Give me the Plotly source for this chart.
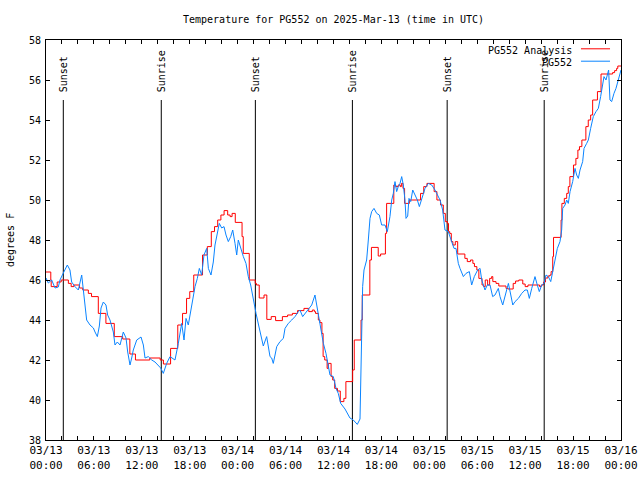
import pandas as pd
import plotly.graph_objects as go

START = "2025-03-13 00:00"
END = "2025-03-16 00:00"

# PG552 Analysis (red, stepped) : hours since start, temperature (F)
analysis_hours = [0.0, 0.6, 0.65, 1.4, 1.9, 2.8, 3.15, 3.5, 4.2, 4.6, 5.3, 5.7, 6.55, 7.5, 8.55, 9.6,
                  10.5, 11.2, 13.0, 14.3, 14.7, 15.6, 16.5, 17.1, 17.6, 18.0, 18.5, 19.6, 20.2, 20.7,
                  21.1, 21.5, 21.9, 22.3, 22.75, 23.05, 23.3, 23.7, 24.55, 24.7, 25.45, 26.2, 26.35,
                  26.7, 27.3, 27.65, 28.2, 28.75, 29.6, 30.25, 30.85, 31.5, 32.3, 32.9, 33.35, 33.6,
                  33.75, 34.1, 34.3, 34.55, 34.7, 34.9, 35.2, 35.35, 35.7, 35.9, 36.15, 36.5, 36.85,
                  37.3, 37.55, 38.4, 38.6, 39.45, 39.6, 40.55, 40.75, 41.6, 41.9, 42.5, 42.65, 43.55,
                  43.8, 44.1, 44.35, 44.5, 44.7, 44.9, 45.5, 46.9, 47.3, 47.7, 48.6, 48.95, 49.4,
                  49.75, 50.0, 50.25, 50.4, 50.55, 50.75, 50.95, 51.25, 51.55, 52.45, 52.75, 53.15,
                  53.45, 53.65, 53.95, 54.2, 54.6, 54.8, 55.0, 55.3, 55.55, 55.8, 55.95, 56.35, 56.7,
                  57.6, 57.85, 58.5, 58.8, 59.2, 59.7, 60.0, 60.35, 61.8, 62.0, 62.3, 62.55, 62.85,
                  63.1, 63.25, 63.45, 63.55, 64.5, 64.6, 64.9, 65.2, 65.4, 65.6, 66.05, 66.35, 66.6,
                  66.8, 67.1, 67.6, 67.9, 68.2, 68.45, 69.05, 69.5, 70.95, 71.2, 71.45, 71.6, 72.0]
analysis_temps = [46.4, 46.0, 45.67, 45.9, 46.0, 45.83, 45.67, 45.75, 45.6, 45.5, 45.33, 45.17, 44.33,
                  43.83, 43.17, 43.05, 42.3, 42.0, 42.1, 42.0, 41.8, 42.58, 43.75, 44.33, 45.08,
                  45.42, 46.25, 47.25, 47.67, 48.42, 48.67, 49.0, 49.25, 49.47, 49.25, 49.17, 49.33,
                  48.88, 48.17, 47.33, 46.0, 45.83, 45.75, 45.1, 45.25, 44.03, 44.17, 43.97, 44.17,
                  44.25, 44.33, 44.47, 44.58, 44.42, 44.5, 44.42, 44.33, 44.0, 43.87, 43.33, 42.17,
                  42.0, 41.58, 41.83, 41.17, 41.0, 40.58, 40.45, 39.92, 40.08, 40.92, 41.5, 43.0,
                  44.0, 45.25, 47.0, 47.63, 47.2, 47.3, 48.33, 49.83, 50.75, 50.67, 50.75, 50.67,
                  50.83, 50.58, 49.83, 50.0, 50.33, 50.67, 50.83, 50.42, 50.0, 49.75, 49.33, 48.92,
                  48.83, 48.42, 48.33, 47.92, 47.75, 47.92, 47.3, 47.08, 46.92, 47.0, 46.83, 46.67,
                  46.5, 46.08, 45.75, 45.67, 46.0, 45.75, 46.08, 46.17, 45.92, 45.83, 45.7, 45.58,
                  45.55, 45.83, 45.95, 46.0, 45.8, 45.67, 45.75, 45.67, 45.75, 45.9, 46.1, 46.2,
                  46.25, 46.42, 47.17, 48.13, 49.0, 49.83, 50.08, 50.33, 50.67, 51.17, 51.75, 52.08,
                  52.5, 52.67, 53.0, 53.67, 54.0, 54.25, 55.0, 55.42, 56.3, 56.37, 56.47, 56.58,
                  56.7, 56.7]

# PG552 observations (blue)
obs_hours = [0.0, 0.08, 0.29, 0.71, 1.13, 1.54, 1.75, 2.17, 2.67, 3.0, 3.21, 3.63, 4.05, 4.47, 4.67,
             4.88, 5.09, 5.51, 5.93, 6.14, 6.43, 6.68, 6.89, 7.18, 7.51, 7.72, 8.01, 8.43, 8.64,
             8.93, 9.27, 9.68, 10.02, 10.23, 10.52, 10.73, 10.93, 11.36, 11.9, 12.19, 12.4, 12.81,
             13.24, 13.65, 14.06, 14.36, 14.69, 15.11, 15.53, 16.15, 16.57, 16.99, 17.28, 17.53,
             17.82, 18.24, 18.66, 18.95, 19.2, 19.49, 19.78, 20.12, 20.33, 20.66, 20.95, 21.16,
             21.37, 21.7, 22.0, 22.29, 22.54, 22.83, 23.13, 23.38, 23.67, 23.88, 24.08, 24.38,
             24.71, 25.04, 25.33, 25.63, 25.96, 26.3, 26.59, 27.0, 27.21, 27.63, 27.84, 28.05,
             28.26, 28.46, 28.68, 28.89, 29.3, 29.72, 29.93, 30.34, 30.77, 31.18, 31.6, 31.8,
             32.14, 32.43, 32.85, 33.27, 33.68, 33.9, 34.1, 34.4, 34.73, 35.06, 35.35, 35.56,
             35.98, 36.31, 36.6, 36.9, 37.44, 37.86, 38.06, 38.48, 38.69, 38.98, 39.32, 39.44,
             39.53, 39.65, 39.82, 40.15, 40.36, 40.57, 40.78, 41.07, 41.41, 41.74, 42.03, 42.45,
             42.74, 43.07, 43.29, 43.49, 43.7, 43.91, 44.11, 44.33, 44.54, 44.74, 44.95, 45.08,
             45.29, 45.45, 45.67, 45.92, 46.21, 46.5, 46.75, 47.04, 47.46, 47.87, 48.3, 48.71,
             49.0, 49.34, 49.67, 49.96, 50.37, 50.8, 51.09, 51.34, 51.63, 51.84, 52.26, 52.59,
             53.01, 53.3, 53.63, 54.05, 54.35, 54.56, 54.97, 55.26, 55.6, 55.93, 56.22, 56.64,
             56.85, 57.19, 57.48, 57.9, 58.2, 58.45, 58.73, 59.15, 59.57, 59.98, 60.27, 60.52,
             60.82, 61.23, 61.52, 61.77, 62.07, 62.36, 62.61, 62.9, 63.2, 63.45, 63.74, 64.03,
             64.36, 64.57, 64.7, 64.99, 65.2, 65.4, 65.62, 65.95, 66.24, 66.45, 66.66, 66.87,
             67.2, 67.37, 67.7, 67.91, 68.2, 68.53, 68.87, 69.16, 69.45, 69.7, 69.87, 70.12,
             70.33, 70.45, 70.62, 70.83, 71.12, 71.37, 71.66, 71.87, 72.0]
obs_temps = [46.1, 46.0, 45.85, 46.0, 45.6, 45.65, 46.0, 46.35, 46.75, 46.5, 45.9, 45.67, 45.5, 46.25,
             45.6, 44.9, 44.0, 43.75, 43.6, 43.4, 43.17, 43.7, 44.6, 44.9, 44.75, 44.25, 44.0,
             43.4, 42.75, 42.9, 42.75, 43.4, 43.1, 42.4, 41.75, 42.1, 42.5, 43.0, 43.15, 42.75,
             42.1, 42.17, 42.0, 41.9, 41.7, 41.6, 41.33, 41.83, 42.17, 42.0, 42.83, 43.83, 43.0,
             44.08, 43.75, 44.67, 45.67, 46.08, 46.58, 46.25, 47.25, 47.58, 46.58, 46.25, 46.9,
             47.75, 48.25, 48.83, 48.6, 48.67, 48.25, 47.92, 48.17, 48.5, 47.83, 47.25, 48.0,
             47.58, 47.17, 46.83, 46.17, 45.75, 45.0, 44.33, 43.8, 43.08, 42.7, 43.17, 42.75,
             42.17, 42.1, 41.83, 42.25, 42.67, 42.92, 43.08, 43.58, 43.83, 44.0, 44.17, 44.42,
             44.5, 44.17, 44.33, 44.5, 44.75, 45.25, 44.75, 44.33, 43.67, 42.83, 42.33, 41.67,
             41.25, 41.17, 40.58, 40.33, 39.83, 39.55, 39.25, 39.1, 39.0, 38.92, 38.78, 39.05,
             41.17, 43.67, 45.67, 46.5, 47.0, 48.0, 49.08, 49.42, 49.58, 49.33, 49.25, 48.75,
             48.75, 48.42, 49.17, 50.0, 50.33, 50.92, 50.42, 50.67, 50.83, 51.17, 50.75, 50.0,
             49.08, 49.2, 50.08, 49.92, 50.5, 50.25, 50.0, 49.67, 50.0, 50.58, 50.83, 50.75,
             50.5, 50.25, 50.0, 49.5, 48.5, 48.42, 47.92, 47.58, 47.58, 46.83, 46.58, 46.17,
             46.33, 46.42, 45.75, 46.17, 46.5, 46.58, 46.0, 45.5, 45.75, 45.75, 45.17, 45.25,
             45.58, 45.17, 44.75, 45.17, 45.83, 45.25, 44.75, 44.92, 45.08, 45.33, 45.5, 45.5,
             45.08, 45.58, 46.17, 45.75, 45.42, 45.75, 45.83, 46.25, 46.17, 45.92, 46.42, 47.1,
             47.58, 47.92, 48.5, 49.58, 49.75, 50.0, 49.83, 50.42, 50.92, 51.58, 51.25, 51.08,
             51.5, 51.92, 52.58, 52.83, 53.0, 53.58, 54.17, 54.42, 54.58, 55.17, 55.83, 56.17,
             56.0, 56.25, 56.5, 55.0, 54.92, 55.33, 55.58, 56.0, 56.42, 56.5]

# Sun events (UTC)
event_times = ["2025-03-13 02:10", "2025-03-13 14:26", "2025-03-14 02:13",
               "2025-03-14 14:22", "2025-03-15 02:14", "2025-03-15 14:23"]
event_labels = ["Sunset", "Sunrise", "Sunset", "Sunrise", "Sunset", "Sunrise"]
event_line_top = 55

series_names = ["PG552 Analysis", "PG552"]
series_colors = ["#ff0000", "#0a84ff"]

FONT = "DejaVu Sans Mono"
start = pd.Timestamp(START)
ax = start + pd.to_timedelta(analysis_hours, unit="h")
ox = start + pd.to_timedelta(obs_hours, unit="h")

fig = go.Figure()
fig.add_trace(go.Scatter(x=ax, y=analysis_temps, mode="lines", line_shape="hv",
                         line=dict(color=series_colors[0], width=1), name=series_names[0]))
fig.add_trace(go.Scatter(x=ox, y=obs_temps, mode="lines",
                         line=dict(color=series_colors[1], width=1), name=series_names[1]))

shapes = []
annotations = []
for t, lab in zip(event_times, event_labels):
    shapes.append(dict(type="line", xref="x", yref="y", x0=t, x1=t, y0=38, y1=event_line_top,
                       line=dict(color="black", width=1), layer="below"))
    annotations.append(dict(x=t, y=event_line_top, xref="x", yref="y", text=lab, textangle=-90,
                            showarrow=False, xanchor="center", yanchor="bottom", yshift=6,
                            font=dict(family=FONT, size=10, color="black")))

# legend (gnuplot style: text then sample)
leg_y = [0.975, 0.944]
for name, col, yy in zip(series_names, series_colors, leg_y):
    annotations.append(dict(x=0.9183, y=yy, xref="paper", yref="paper", text=name, showarrow=False,
                            xanchor="right", yanchor="middle",
                            font=dict(family=FONT, size=10, color="black")))
    shapes.append(dict(type="line", xref="paper", yref="paper", x0=0.9304, x1=0.9809,
                       y0=yy + 0.003, y1=yy + 0.003, line=dict(color=col, width=1)))

annotations.append(dict(x=-0.0626, y=0.5, xref="paper", yref="paper", text="degrees F",
                        textangle=-90, showarrow=False, xanchor="center", yanchor="middle",
                        font=dict(family=FONT, size=10, color="black")))
annotations.append(dict(x=0.5, y=1.05, xref="paper", yref="paper",
                        text="Temperature for PG552 on 2025-Mar-13 (time in UTC)", showarrow=False,
                        xanchor="center", yanchor="middle",
                        font=dict(family=FONT, size=10, color="black")))

fig.update_layout(
    width=640, height=480,
    margin=dict(l=46, r=19, t=40, b=40),
    paper_bgcolor="white", plot_bgcolor="white",
    showlegend=False,
    font=dict(family=FONT, size=10, color="black"),
    shapes=shapes, annotations=annotations,
    xaxis=dict(type="date", range=[START, END], tickmode="linear", tick0=START,
               dtick=6 * 3600 * 1000, tickformat="%m/%d<br>%H:%M", automargin=False,
               ticks="inside", ticklen=4, tickcolor="black", showline=True, linecolor="black",
               linewidth=1, mirror="allticks", showgrid=False, zeroline=False,
               minor=dict(dtick=2 * 3600 * 1000, tick0=START, ticks="inside", ticklen=4,
                          tickcolor="black", showgrid=False),
               tickfont=dict(family=FONT, size=11, color="black")),
    yaxis=dict(range=[38, 58], tickmode="linear", tick0=38, dtick=2, ticks="inside", ticklen=4,
               tickcolor="black", showline=True, linecolor="black", linewidth=1, automargin=False,
               mirror="allticks", showgrid=False, zeroline=False, ticklabelstandoff=2,
               tickfont=dict(family=FONT, size=10, color="black")),
)

fig.write_html("out.html")
